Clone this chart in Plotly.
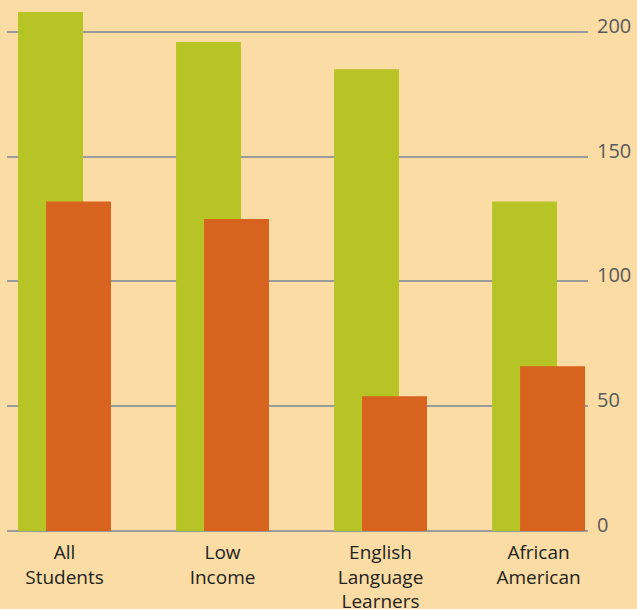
import plotly.graph_objects as go

categories = ["All<br>Students", "Low<br>Income", "English<br>Language<br>Learners", "African<br>American"]
green_values = [208, 196, 185, 132]
orange_values = [132, 125, 54, 66]
y_ticks = [0, 50, 100, 150, 200]

idx = list(range(len(categories)))

fig = go.Figure()
fig.add_trace(go.Bar(x=idx, y=green_values, marker=dict(color="#B6C425", line=dict(width=0)),
                     width=0.411, offset=-0.294, showlegend=False))
fig.add_trace(go.Bar(x=idx, y=orange_values, marker=dict(color="#D8631F", line=dict(width=0)),
                     width=0.411, offset=-0.117, showlegend=False))

fig.update_layout(
    width=637, height=609,
    margin=dict(l=7, r=49, t=0, b=78, autoexpand=False),
    paper_bgcolor="#FBDCA4", plot_bgcolor="#FBDCA4",
    barmode="overlay",
    font=dict(family="Open Sans, Noto Sans, sans-serif"),
    xaxis=dict(range=[-0.364, 3.313], tickvals=idx, ticktext=categories,
               showgrid=False, zeroline=False, showline=False, ticks="",
               automargin=False, ticklabelstandoff=8,
               tickfont=dict(size=19, color="#231F20")),
    yaxis=dict(range=[0, 212.8], side="right", tickvals=y_ticks,
               showgrid=True, gridcolor="#9A9A9A", gridwidth=2,
               zeroline=True, zerolinecolor="#9A9A9A", zerolinewidth=2,
               ticks="", ticklabelstandoff=8, ticklabelshift=-6, automargin=False,
               tickfont=dict(size=20, color="#58595B")),
)

fig.write_html("out.html", config={"displayModeBar": False},
               post_script="document.body.style.margin='0';document.body.style.background='#FBDCA4';")
